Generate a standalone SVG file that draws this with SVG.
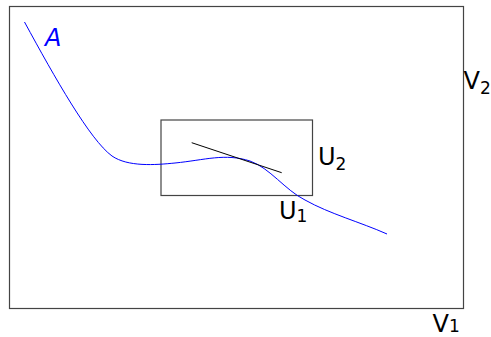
<svg xmlns="http://www.w3.org/2000/svg" width="491" height="337" viewBox="0 0 491 337">
<style>
.box{fill:none;stroke:#444;stroke-width:1.2}
.lbl{font-family:"DejaVu Sans","Liberation Sans",sans-serif;font-size:24px;fill:#000}
.sub{font-size:17px}
</style>
<rect width="491" height="337" fill="#fff"/>
<g id="outer"><rect class="box" x="9.5" y="6.5" width="454" height="302"/></g>
<g id="inner"><rect class="box" x="161" y="120" width="151.5" height="75.5"/></g>
<g id="connectors">
<path d="M24.5,22 C55,78 90,140 112,156 C128,167 155,165 175,163 C205,160 225,153 250,161 C270,168 285,190 305,200 C330,214 360,222 387,234" fill="none" stroke="#0000ff" stroke-width="1"/>
<line x1="191.7" y1="142.7" x2="281.7" y2="172.7" stroke="#000" stroke-width="1"/>
</g>
<g id="labels">
<text x="45" y="46" style="font-family:'DejaVu Sans','Liberation Sans',sans-serif;font-size:24px;font-style:italic;fill:#0000ff">A</text>
<text class="lbl" x="318" y="164.5">U<tspan class="sub" dy="5.5">2</tspan></text>
<text class="lbl" x="279" y="218.5">U<tspan class="sub" dy="3.5">1</tspan></text>
<text class="lbl" x="463.5" y="88.5">V<tspan class="sub" dy="5">2</tspan></text>
<text class="lbl" x="432.5" y="331.5">V<tspan class="sub">1</tspan></text>
</g>
</svg>
